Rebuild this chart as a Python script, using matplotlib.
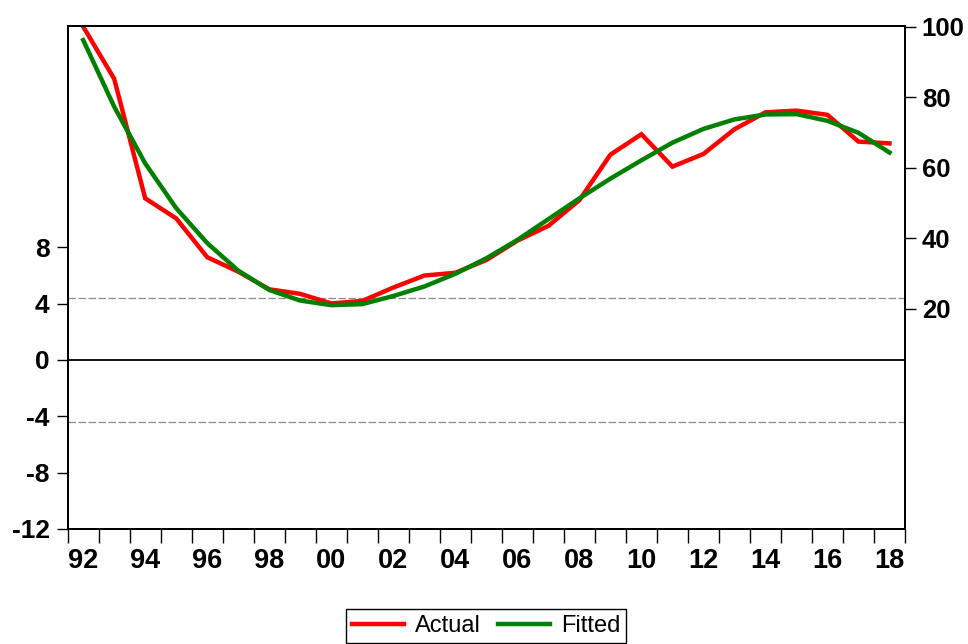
import matplotlib
matplotlib.use("Agg")
import matplotlib.pyplot as plt
from matplotlib.ticker import FixedLocator, NullFormatter

years = list(range(1992, 2019))
actual = [100.0, 85.2, 51.3, 45.6, 34.6, 30.5, 25.5, 24.2, 21.5, 22.2,
          26.0, 29.4, 30.2, 33.8, 39.3, 43.5, 50.8, 63.7, 69.5, 60.3,
          63.9, 70.9, 75.7, 76.2, 75.0, 67.4, 66.9]
fitted = [96.2, 77.3, 61.2, 48.5, 38.6, 30.8, 25.3, 22.3, 21.0, 21.3,
          23.6, 26.3, 29.9, 34.3, 39.5, 45.4, 51.3, 56.9, 62.1, 67.1,
          71.0, 73.7, 75.1, 75.2, 73.3, 69.9, 64.3]
resid_band = 4.4
left_ticks = [-12, -8, -4, 0, 4, 8]
right_ticks = [20, 40, 60, 80, 100]
x_label_years = list(range(1992, 2019, 2))

plt.rcParams['font.family'] = ['Liberation Sans', 'DejaVu Sans']

fig = plt.figure(figsize=(9.68, 6.44), dpi=100)
ax = fig.add_axes([67.7/968, 1 - 529/644, (905 - 67.7)/968, (529 - 26)/644])
ax2 = ax.twinx()

xpos = [y + 0.5 for y in years]

# residual reference lines (left scale)
ax.axhline(0, color='black', lw=1.3, zorder=1)
ax.axhline(resid_band, color='#8c8c8c', lw=0.9, ls=(0, (6, 2)), zorder=1)
ax.axhline(-resid_band, color='#8c8c8c', lw=0.9, ls=(0, (6, 2)), zorder=1)

l1, = ax2.plot(xpos, actual, color='#ff0000', lw=3.2, label='Actual', solid_joinstyle='miter')
l2, = ax2.plot(xpos, fitted, color='#008000', lw=3.2, label='Fitted', solid_joinstyle='miter')

ax.set_xlim(1992, 2019)
ax.set_ylim(-12, 23.7)
ax2.set_ylim(-42.5, 100.2)

# x ticks: year boundaries, labels at mid-year
ax.xaxis.set_major_locator(FixedLocator(list(range(1992, 2020))))
ax.xaxis.set_major_formatter(NullFormatter())
ax.xaxis.set_minor_locator(FixedLocator([y + 0.5 for y in x_label_years]))
ax.set_xticklabels([f"{y % 100:02d}" for y in x_label_years], minor=True)
ax.tick_params(axis='x', which='major', direction='out', length=10, width=1, bottom=True, top=False)
ax.tick_params(axis='x', which='minor', length=0, pad=14, labelsize=19.5)

ax.set_yticks(left_ticks)
ax.set_yticklabels([str(t) for t in left_ticks])
ax.tick_params(axis='y', direction='out', length=8, width=1, pad=5, labelsize=19)

ax2.set_yticks(right_ticks)
ax2.set_yticklabels([str(t) for t in right_ticks])
ax2.tick_params(axis='y', direction='out', length=8, width=1, pad=4, labelsize=18.5)

for lab in ax.get_xticklabels(minor=True) + ax.get_yticklabels() + ax2.get_yticklabels():
    lab.set_fontweight('bold')

for a in (ax, ax2):
    for s in a.spines.values():
        s.set_linewidth(1.4)
        s.set_color('black')

leg = fig.legend(handles=[l1, l2], loc='upper center', ncol=2,
                 bbox_to_anchor=(486/968, 1 - 609/644), fontsize=17,
                 frameon=True, fancybox=False, shadow=False, framealpha=1,
                 edgecolor='black', handlelength=2.2, handletextpad=0.45,
                 columnspacing=0.75, borderpad=0.25, borderaxespad=0)
leg.get_frame().set_linewidth(1.0)

fig.savefig('out.png', dpi=100)
